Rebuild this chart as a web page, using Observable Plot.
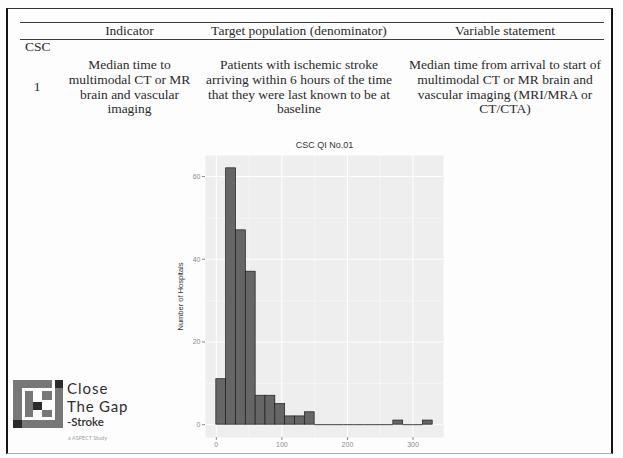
<!DOCTYPE html>
<html>
<head>
<meta charset="utf-8">
<script src="https://cdn.jsdelivr.net/npm/d3@7"></script>
<script src="https://cdn.jsdelivr.net/npm/@observablehq/plot@0.6"></script>
<style>
  html, body { margin: 0; padding: 0; }
  body { width: 623px; height: 458px; position: relative; background: #fdfdfd; overflow: hidden; }
  .abs { position: absolute; }
  .tx { position: absolute; font-family: "Liberation Serif", "Times New Roman", serif; font-size: 13.5px; line-height: 14.8px; color: #2a2a2a; text-align: center; white-space: nowrap; }
  .rule { position: absolute; background: #3a3a3a; }
  .logo { position: absolute; font-family: Lato, "Open Sans", sans-serif; color: #2e2e2e; white-space: nowrap; }
  .g { position: absolute; background: #777777; }
  .d { position: absolute; background: #2b2b2b; }
</style>
</head>
<body>
<div id="page"></div>
<script>
// ---- Table content ----
const sectionLabel = "CSC";
const rowNumber = "1";
const headers = ["Indicator", "Target population (denominator)", "Variable statement"];
const indicatorLines = ["Median time to", "multimodal CT or MR", "brain and vascular", "imaging"];
const populationLines = ["Patients with ischemic stroke", "arriving within 6 hours of the time", "that they were last known to be at", "baseline"];
const statementLines = ["Median time from arrival to start of", "multimodal CT or MR brain and", "vascular imaging (MRI/MRA or", "CT/CTA)"];

// ---- Chart data ----
const chartTitle = "CSC QI No.01";
const yAxisLabel = "Number of Hospitals";
const binStart = [0, 15, 30, 45, 60, 75, 90, 105, 120, 135, 150, 165, 180, 195, 210, 225, 240, 255, 270, 285, 300, 315];
const hospitalCounts = [11, 62, 47, 37, 7, 7, 5, 2, 2, 3, 0, 0, 0, 0, 0, 0, 0, 0, 1, 0, 0, 1];
const binWidth = 15;
const xTicks = [0, 100, 200, 300];
const xMinorTicks = [50, 150, 250];
const yTicks = [0, 20, 40, 60];
const yMinorTicks = [10, 30, 50];

// ---- Logo text ----
const logoLines = ["Close", "The Gap", "-Stroke", "a ASPECT Study"];

const page = document.getElementById("page");
function el(cls, style, html) {
  const d = document.createElement("div");
  d.className = cls;
  Object.assign(d.style, style);
  if (html != null) d.innerHTML = html;
  page.appendChild(d);
  return d;
}

// outer frame
el("abs", {left: "6px", top: "8px", width: "603px", height: "444px",
  borderTop: "1.5px solid #333", borderBottom: "1px solid #aaa",
  borderLeft: "2.5px solid #151515", borderRight: "2.5px solid #151515"});

// table rules
el("rule", {left: "20px", top: "21.7px", width: "584px", height: "1.3px"});
el("rule", {left: "20px", top: "38.5px", width: "584px", height: "1.3px"});

// headers
const colCenters = [129.5, 299, 505];
headers.forEach((h, i) => el("tx", {left: (colCenters[i] - 150) + "px", top: "24.3px", width: "300px"}, h));

// section label and row number
el("tx", {left: "25px", top: "40px", textAlign: "left"}, sectionLabel);
el("tx", {left: "27px", top: "79.5px", width: "20px"}, rowNumber);

[indicatorLines, populationLines, statementLines].forEach((lines, i) => {
  el("tx", {left: (colCenters[i] - 150) + "px", top: "58px", width: "300px"}, lines.join("<br>"));
});

// logo graphic (watermark)
[[13,380,39,8],[13,380,9,40],[22,420,41,8],[55,388,8,32],[25,391,8,26],[42,391,10,9],[42,410,10,7]].forEach(r =>
  el("g", {left: r[0]+"px", top: r[1]+"px", width: r[2]+"px", height: r[3]+"px"}));
[[55,380,8,8],[13,420,9,8],[33,402,9,8]].forEach(r =>
  el("d", {left: r[0]+"px", top: r[1]+"px", width: r[2]+"px", height: r[3]+"px"}));
el("logo", {left: "67px", top: "379px", fontSize: "15px", lineHeight: "18px", letterSpacing: "1px"}, logoLines[0]);
el("logo", {left: "67px", top: "397px", fontSize: "15px", lineHeight: "18px", letterSpacing: "0.8px"}, logoLines[1]);
el("logo", {left: "67px", top: "415px", fontSize: "11.5px", lineHeight: "13.8px", fontWeight: "600"}, logoLines[2]);
el("logo", {left: "68px", top: "435px", fontSize: "5.5px", lineHeight: "7px", color: "#a0a0a0"}, logoLines[3]);

// ---- Histogram ----
const bins = binStart.map((x1, i) => ({x1, x2: x1 + binWidth, count: hospitalCounts[i]}));
const chart = Plot.plot({
  width: 300,
  height: 320,
  marginLeft: 45,
  marginRight: 17,
  marginTop: 20,
  marginBottom: 18,
  style: {fontFamily: "'Liberation Sans', Arial, sans-serif", background: "transparent", overflow: "visible"},
  x: {domain: [-16.5, 346.5]},
  y: {domain: [-3.1, 65.1]},
  marks: [
    Plot.frame({fill: "#eeeeee", stroke: null}),
    Plot.gridX({ticks: xMinorTicks, stroke: "#fafafa", strokeOpacity: 1, strokeWidth: 0.5}),
    Plot.gridY({ticks: yMinorTicks, stroke: "#fafafa", strokeOpacity: 1, strokeWidth: 0.5}),
    Plot.gridX({ticks: xTicks, stroke: "#ffffff", strokeOpacity: 1, strokeWidth: 1}),
    Plot.gridY({ticks: yTicks, stroke: "#ffffff", strokeOpacity: 1, strokeWidth: 1}),
    Plot.rectY(bins.filter(d => d.count > 0), {x1: "x1", x2: "x2", y1: 0, y2: "count", fill: "#666666", stroke: "#1c1c1c", strokeWidth: 0.7}),
    Plot.ruleY(bins.filter(d => d.count === 0), {x1: "x1", x2: "x2", y: "count", stroke: "#2a2a2a", strokeWidth: 0.9}),
    Plot.axisX({ticks: xTicks, tickSize: 3, tickPadding: 2, fontSize: 7, color: "#8a8a8a", label: null}),
    Plot.axisY({ticks: yTicks, tickSize: 3, tickPadding: 2, fontSize: 7, color: "#8a8a8a", label: null}),
    Plot.text([yAxisLabel], {frameAnchor: "left", rotate: -90, dx: -25, textAnchor: "middle", fontSize: 7.5, fill: "#333"}),
    Plot.text([chartTitle], {frameAnchor: "top", lineAnchor: "middle", dy: -10, fontSize: 9, fill: "#333"})
  ]
});
chart.style.position = "absolute";
chart.style.left = "160px";
chart.style.top = "135px";
page.appendChild(chart);
</script>
</body>
</html>
